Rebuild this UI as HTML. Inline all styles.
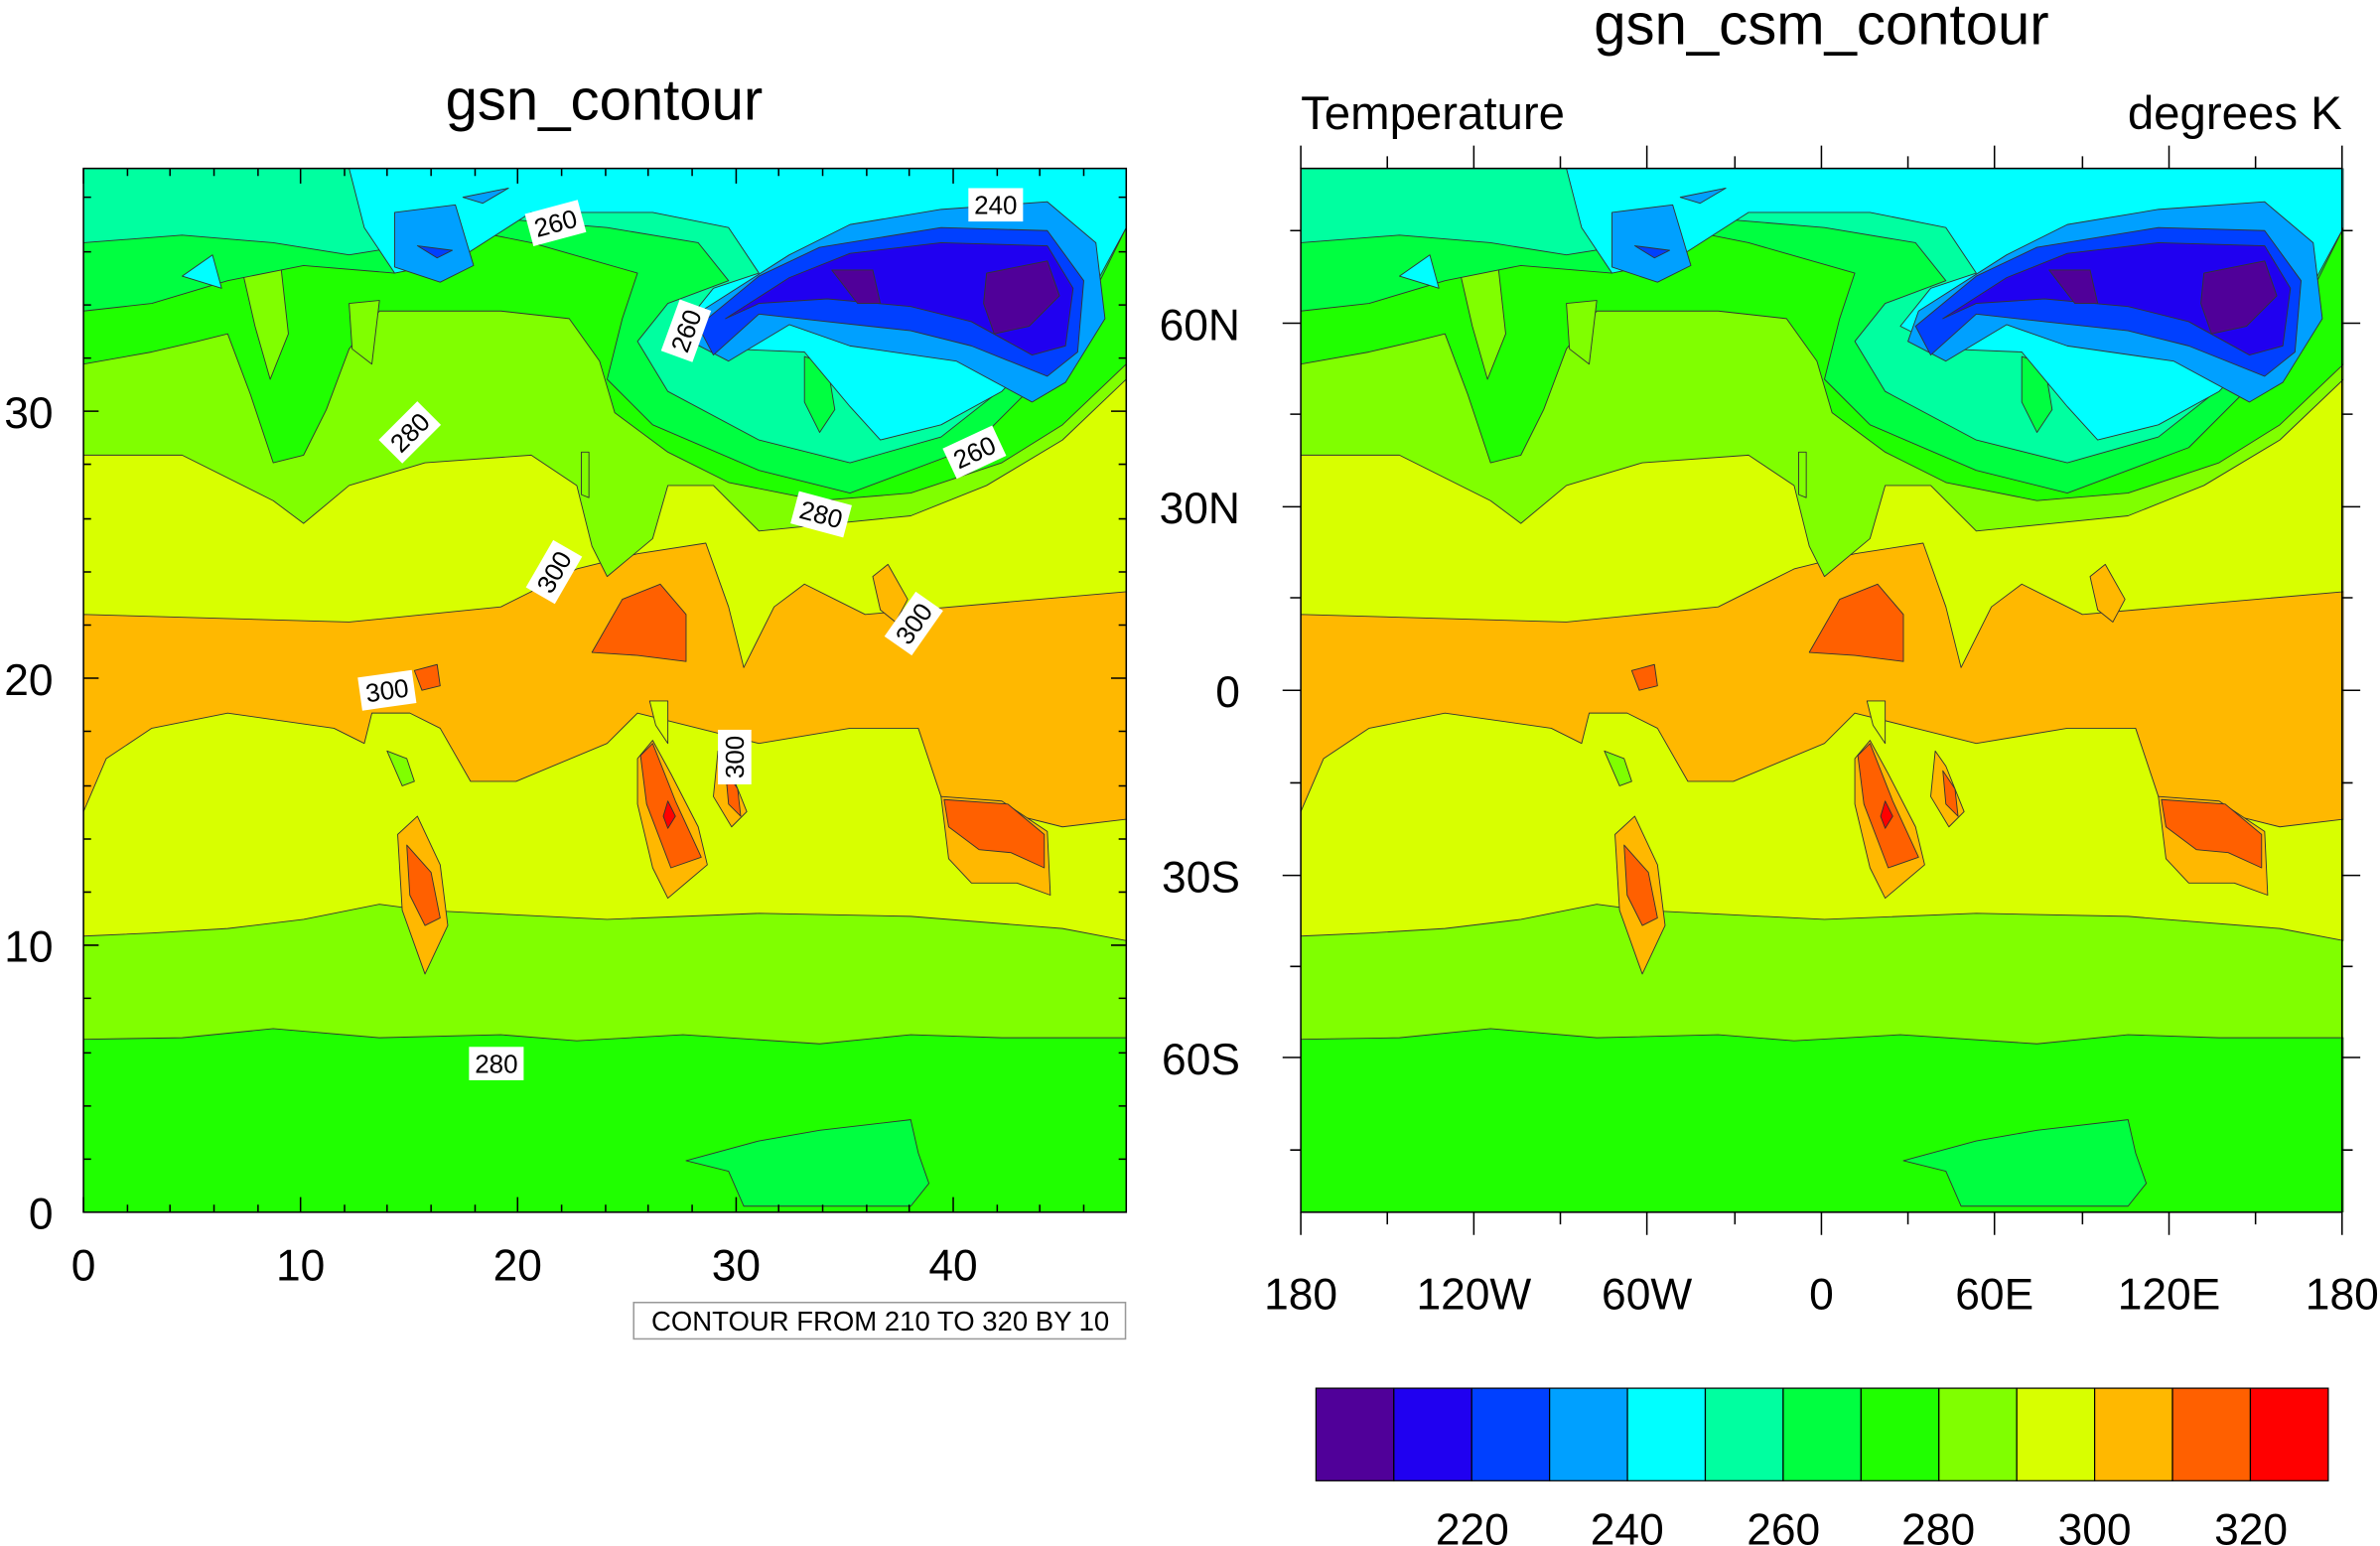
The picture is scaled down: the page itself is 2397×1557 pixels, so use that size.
<!DOCTYPE html>
<html><head><style>html,body{margin:0;padding:0;background:#fff;overflow:hidden}svg{display:block}</style></head>
<body>
<svg width="2397" height="1557" viewBox="0 0 1568 1019" preserveAspectRatio="none" xmlns="http://www.w3.org/2000/svg" font-family="Liberation Sans, sans-serif">
<defs>
<clipPath id="cp"><rect x="55" y="111" width="687" height="688"/></clipPath>
</defs>
<g id="f" clip-path="url(#cp)" stroke="#333" stroke-width="0.6" stroke-linejoin="round">
<rect x="55" y="111" width="687" height="688" fill="#80ff00" stroke="none"/>
<polygon fill="#20ff00" points="55,685 120,684 180,678 250,684 330,682 380,686 450,682 540,688 600,682 660,684 742,684 742,799 55,799"/>
<polygon fill="#00ff40" points="452,765 500,752 540,745 600,738 605,760 612,780 600,795 490,795 480,772"/>
<polygon fill="#d8ff00" points="55,111 742,111 742,620 700,612 600,604 500,602 400,606 320,602 280,600 250,596 200,606 150,612 100,615 55,617"/>
<polygon fill="#ffb800" points="55,405 230,410 330,400 380,375 420,365 465,358 480,400 490,440 510,400 530,385 550,395 570,405 742,390 742,540 700,545 620,525 605,480 560,480 500,490 460,480 420,470 400,490 340,515 310,515 290,480 270,470 245,470 240,490 220,480 150,470 100,480 70,500 55,535"/>
<polygon fill="#d8ff00" points="428,462 440,462 440,490 432,478"/>
<polygon fill="#ffb800" points="420,500 430,488 442,510 460,545 466,570 440,592 430,572 420,530"/>
<polygon fill="#ffb800" points="473,495 480,505 492,535 482,545 470,525"/>
<polygon fill="#ffb800" points="262,550 275,538 290,570 295,610 280,642 265,600"/>
<polygon fill="#ffb800" points="620,525 660,528 690,548 692,590 670,582 640,582 625,566"/>
<polygon fill="#ffb800" points="575,380 585,372 598,395 590,410 580,402"/>
<polygon fill="#ff6000" points="390,430 410,395 435,385 452,405 452,436 420,432"/>
<polygon fill="#ff6000" points="422,498 430,490 445,528 462,565 442,572 426,530"/>
<polygon fill="#ff6000" points="478,508 486,520 488,538 480,530"/>
<polygon fill="#ff6000" points="622,527 664,530 688,550 688,572 666,562 645,560 625,545"/>
<polygon fill="#ff6000" points="268,557 284,575 290,605 280,610 270,590"/>
<polygon fill="#ff6000" points="273,442 288,438 290,452 278,455"/>
<polygon fill="#ff0000" points="440,528 445,538 440,546 437,538"/>
<polygon fill="#80ff00" points="255,495 268,500 273,515 265,518"/>
<polygon fill="#80ff00" points="55,300 120,300 180,330 200,345 230,320 280,305 350,300 380,320 390,360 400,380 430,355 440,320 470,320 500,350 550,345 600,340 650,320 700,290 742,250 742,111 55,111"/>
<polygon fill="#20ff00" points="55,111 742,111 742,240 700,280 660,305 600,325 540,330 480,318 440,298 405,272 395,238 375,210 330,205 250,205 230,230 215,270 200,300 180,305 165,260 150,220 130,225 100,232 55,240"/>
<polygon fill="#80ff00" points="160,180 185,175 190,220 178,250 168,215"/>
<polygon fill="#80ff00" points="230,200 250,198 245,240 232,230"/>
<polygon fill="#80ff00" points="383,298 388,298 388,328 383,326"/>
<polygon fill="#00ff40" points="55,111 742,111 742,150 700,235 640,295 560,325 500,310 430,280 400,250 410,210 420,180 350,160 300,150 260,180 200,175 150,185 100,200 55,205"/>
<polygon fill="#00ffa0" points="55,111 742,111 742,140 700,225 620,288 560,305 500,290 440,258 420,225 440,200 480,185 460,160 400,150 340,145 280,160 230,168 180,160 120,155 55,160"/>
<polygon fill="#00ff40" points="530,235 545,240 550,270 540,285 530,265"/>
<polygon fill="#00ffff" points="230,111 742,111 742,150 715,200 660,258 620,280 580,290 560,268 530,232 480,230 450,215 470,190 500,180 480,150 430,140 350,140 300,172 260,180 240,150"/>
<polygon fill="#00ffff" points="120,182 140,168 146,190"/>
<polygon fill="#00a0ff" points="462,205 520,168 560,148 620,138 690,133 722,160 728,210 702,252 680,265 630,238 560,228 520,214 480,238 455,225"/>
<polygon fill="#00a0ff" points="260,140 300,135 312,175 290,186 260,176"/>
<polygon fill="#00a0ff" points="305,130 335,124 318,134"/>
<polygon fill="#0040ff" points="460,215 500,182 540,163 620,150 690,152 714,185 710,232 690,248 640,228 600,218 545,212 500,207 470,234"/>
<polygon fill="#0040ff" points="275,162 298,165 288,170"/>
<polygon fill="#2000f0" points="478,210 520,183 560,167 620,160 690,162 707,190 702,228 680,234 640,212 600,202 545,197 500,200"/>
<polygon fill="#500099" points="548,178 575,178 580,200 565,200"/>
<polygon fill="#500099" points="650,180 690,172 698,195 678,215 655,220 648,200"/>
</g>
<use href="#f" x="802"/>
<g stroke="#000" fill="none" stroke-width="1">
<rect x="55" y="111" width="687" height="688"/>
<rect x="857" y="111" width="686" height="688"/>
<path d="M55,799v-10M198,799v-10M341,799v-10M485,799v-10M628,799v-10M55,111v10M198,111v10M341,111v10M485,111v10M628,111v10
M84,799v-5M112,799v-5M141,799v-5M170,799v-5M227,799v-5M255,799v-5M284,799v-5M313,799v-5M370,799v-5M399,799v-5M427,799v-5M456,799v-5M513,799v-5M542,799v-5M571,799v-5M599,799v-5M657,799v-5M685,799v-5M714,799v-5
M84,111v5M112,111v5M141,111v5M170,111v5M227,111v5M255,111v5M284,111v5M313,111v5M370,111v5M399,111v5M427,111v5M456,111v5M513,111v5M542,111v5M571,111v5M599,111v5M657,111v5M685,111v5M714,111v5
M55,271h10M55,447h10M55,623h10M742,271h-10M742,447h-10M742,623h-10
M55,764h5M55,729h5M55,694h5M55,658h5M55,588h5M55,553h5M55,518h5M55,482h5M55,412h5M55,377h5M55,342h5M55,306h5M55,236h5M55,201h5M55,166h5M55,130h5
M742,764h-5M742,729h-5M742,694h-5M742,658h-5M742,588h-5M742,553h-5M742,518h-5M742,482h-5M742,412h-5M742,377h-5M742,342h-5M742,306h-5M742,236h-5M742,201h-5M742,166h-5M742,130h-5"/>
<path d="M857,799v15M971,799v15M1085,799v15M1200,799v15M1314,799v15M1429,799v15M1543,799v15M914,799v8M1028,799v8M1143,799v8M1257,799v8M1372,799v8M1486,799v8
M857,111v-15M971,111v-15M1085,111v-15M1200,111v-15M1314,111v-15M1429,111v-15M1543,111v-15M914,111v-8M1028,111v-8M1143,111v-8M1257,111v-8M1372,111v-8M1486,111v-8
M857,213h-12M857,334h-12M857,455h-12M857,577h-12M857,697h-12M1543,213h12M1543,334h12M1543,455h12M1543,577h12M1543,697h12
M857,152h-7M857,273h-7M857,394h-7M857,516h-7M857,637h-7M857,758h-7M1543,152h7M1543,273h7M1543,394h7M1543,516h7M1543,637h7M1543,758h7"/>
</g>
<g font-size="17" text-anchor="middle">
<g transform="translate(656,135)"><rect x="-18" y="-11" width="36" height="22" fill="#fff"/><text y="6">240</text></g>
<g transform="translate(366,147) rotate(-15)"><rect x="-18" y="-11" width="36" height="22" fill="#fff"/><text y="6">260</text></g>
<g transform="translate(452,218) rotate(-70)"><rect x="-18" y="-11" width="36" height="22" fill="#fff"/><text y="6">260</text></g>
<g transform="translate(642,298) rotate(-25)"><rect x="-18" y="-11" width="36" height="22" fill="#fff"/><text y="6">260</text></g>
<g transform="translate(270,285) rotate(-45)"><rect x="-18" y="-11" width="36" height="22" fill="#fff"/><text y="6">280</text></g>
<g transform="translate(541,339) rotate(15)"><rect x="-18" y="-11" width="36" height="22" fill="#fff"/><text y="6">280</text></g>
<g transform="translate(327,701)"><rect x="-18" y="-11" width="36" height="22" fill="#fff"/><text y="6">280</text></g>
<g transform="translate(365,377) rotate(-60)"><rect x="-18" y="-11" width="36" height="22" fill="#fff"/><text y="6">300</text></g>
<g transform="translate(602,411) rotate(-55)"><rect x="-18" y="-11" width="36" height="22" fill="#fff"/><text y="6">300</text></g>
<g transform="translate(255,455) rotate(-8)"><rect x="-18" y="-11" width="36" height="22" fill="#fff"/><text y="6">300</text></g>
<g transform="translate(484,499) rotate(-90)"><rect x="-18" y="-11" width="36" height="22" fill="#fff"/><text y="6">300</text></g>
</g>
<text x="398" y="79" font-size="38" text-anchor="middle">gsn_contour</text>
<text x="1200" y="29" font-size="38" text-anchor="middle">gsn_csm_contour</text>
<text x="857" y="85" font-size="31">Temperature</text>
<text x="1543" y="85" font-size="31" text-anchor="end">degrees K</text>
<g font-size="29" text-anchor="middle">
<text x="55" y="844">0</text><text x="198" y="844">10</text><text x="341" y="844">20</text><text x="485" y="844">30</text><text x="628" y="844">40</text>
<text x="857" y="863">180</text><text x="971" y="863">120W</text><text x="1085" y="863">60W</text><text x="1200" y="863">0</text><text x="1314" y="863">60E</text><text x="1429" y="863">120E</text><text x="1543" y="863">180</text>
</g>
<g font-size="29" text-anchor="end">
<text x="35" y="282">30</text><text x="35" y="458">20</text><text x="35" y="634">10</text><text x="35" y="810">0</text>
<text x="817" y="224">60N</text><text x="817" y="345">30N</text><text x="817" y="466">0</text><text x="817" y="588">30S</text><text x="817" y="708">60S</text>
</g>
<rect x="417.5" y="858.5" width="324" height="24" fill="#fff" stroke="#999"/>
<text x="580" y="877" font-size="18" text-anchor="middle">CONTOUR FROM 210 TO 320 BY 10</text>
<g stroke="#000" stroke-width="0.8">
<rect x="867" y="915" width="51.3" height="61" fill="#500099"/>
<rect x="918.3" y="915" width="51.3" height="61" fill="#2000f0"/>
<rect x="969.6" y="915" width="51.3" height="61" fill="#0040ff"/>
<rect x="1020.9" y="915" width="51.3" height="61" fill="#00a0ff"/>
<rect x="1072.2" y="915" width="51.3" height="61" fill="#00ffff"/>
<rect x="1123.5" y="915" width="51.3" height="61" fill="#00ffa0"/>
<rect x="1174.8" y="915" width="51.3" height="61" fill="#00ff40"/>
<rect x="1226.1" y="915" width="51.3" height="61" fill="#20ff00"/>
<rect x="1277.4" y="915" width="51.3" height="61" fill="#80ff00"/>
<rect x="1328.7" y="915" width="51.3" height="61" fill="#d8ff00"/>
<rect x="1380" y="915" width="51.3" height="61" fill="#ffb800"/>
<rect x="1431.3" y="915" width="51.3" height="61" fill="#ff6000"/>
<rect x="1482.6" y="915" width="51.3" height="61" fill="#ff0000"/>
</g>
<g font-size="29" text-anchor="middle">
<text x="970" y="1018">220</text><text x="1072" y="1018">240</text><text x="1175" y="1018">260</text><text x="1277" y="1018">280</text><text x="1380" y="1018">300</text><text x="1483" y="1018">320</text>
</g>
</svg>
</body></html>
